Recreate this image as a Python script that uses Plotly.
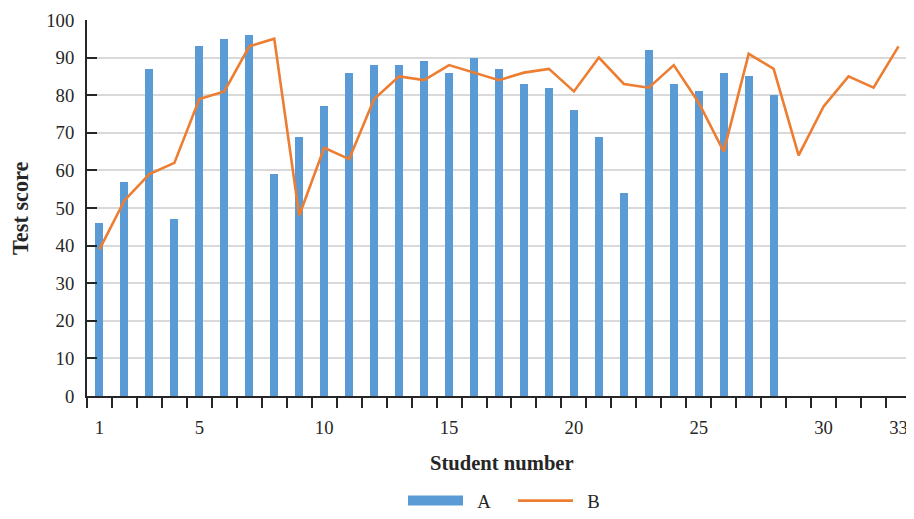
import plotly.graph_objects as go

students = list(range(1, 34))
score_a = [46, 57, 87, 47, 93, 95, 96, 59, 69, 77, 86, 88, 88, 89, 86, 90, 87, 83, 82, 76,
           69, 54, 92, 83, 81, 86, 85, 80]
score_b = [39, 52, 59, 62, 79, 81, 93, 95, 48, 66, 63, 79, 85, 84, 88, 86, 84, 86, 87, 81,
           90, 83, 82, 88, 78, 65, 91, 87, 64, 77, 85, 82, 93]
x_ticks = [1, 5, 10, 15, 20, 25, 30, 33]
y_ticks = list(range(0, 101, 10))

FONT = "Liberation Serif"
TXT = "#262626"
BLUE = "#5B9BD5"
ORANGE = "#ED7D31"
PAD = "\u00a0\u00a0"

fig = go.Figure()
fig.add_trace(go.Bar(x=students[:len(score_a)], y=score_a, name="A", showlegend=False,
                     marker=dict(color=BLUE, line=dict(width=0)), width=0.32))
# legend stand-in for series A (wide filled rectangle, as in the reference)
fig.add_trace(go.Scatter(x=[None], y=[None], name=PAD + "A", mode="lines",
                         line=dict(color=BLUE, width=15)))
fig.add_trace(go.Scatter(x=students, y=score_b, name=PAD + "B", mode="lines",
                         line=dict(color=ORANGE, width=2.6)))

# page body has an 8px margin: figure sized so the page fits the 914x519 window exactly
fig.update_layout(
    width=898, height=503,
    margin=dict(l=79, r=0, t=12, b=115),
    paper_bgcolor="white", plot_bgcolor="white",
    font=dict(family=FONT, size=18.7, color=TXT),
    showlegend=True,
    legend=dict(orientation="h", xref="container", yref="container",
                x=(513 - 8) / 898, xanchor="center", y=0.02, yanchor="middle",
                font=dict(size=18.7, color=TXT), itemwidth=55, entrywidth=40),
    bargap=0,
)
fig.update_xaxes(
    range=[0.5, 33.3], tickvals=x_ticks, ticktext=[str(v) for v in x_ticks],
    ticks="", showgrid=False, showline=True, linecolor=TXT, linewidth=2,
    ticklabelstandoff=14, zeroline=False, automargin=False, ticklabeloverflow="allow",
    minor=dict(tickvals=[i + 0.5 for i in range(0, 34)], ticks="outside",
               ticklen=10, tickwidth=2, tickcolor=TXT, showgrid=False),
)
fig.update_yaxes(
    range=[0, 100], tickvals=y_ticks, ticks="inside", ticklen=10, tickwidth=2, tickcolor=TXT,
    showgrid=True, gridcolor="#D9D9D9", gridwidth=1.6, automargin=False,
    showline=True, linecolor=TXT, linewidth=2, zeroline=False, ticklabelstandoff=7,
)
fig.add_annotation(text="<b>Test score</b>", xref="paper", yref="paper",
                   x=(20 - 87) / 819, y=0.5, xanchor="center", yanchor="middle",
                   textangle=-90, showarrow=False,
                   font=dict(size=22.3, family=FONT, color=TXT))
fig.add_annotation(text="<b>Student number</b>", xref="paper", yref="paper",
                   x=(502 - 87) / 819, y=-0.178, xanchor="center", yanchor="middle",
                   showarrow=False, font=dict(size=20.6, family=FONT, color=TXT))
fig.write_html("out.html")
